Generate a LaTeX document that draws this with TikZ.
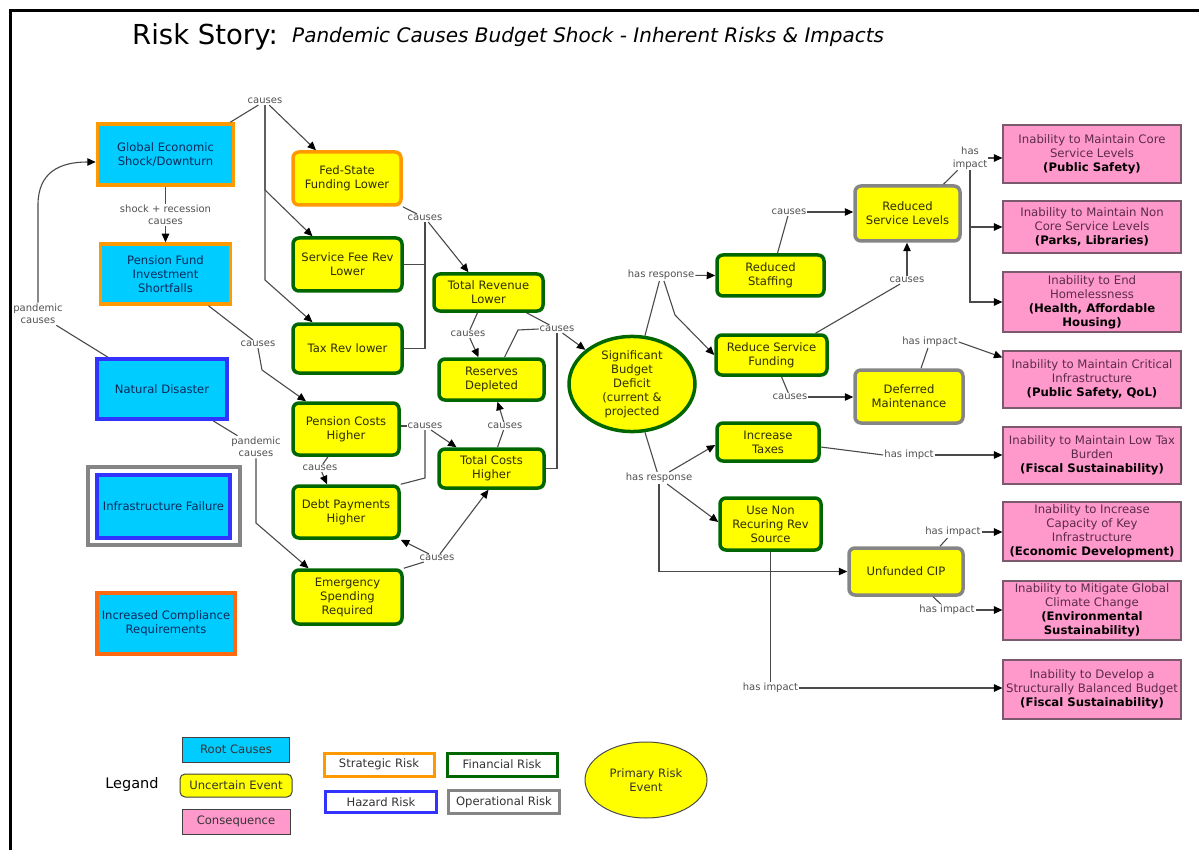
\documentclass[tikz,border=0pt]{standalone}
\usepackage{fontspec}
\setmainfont{DejaVu Sans}
\usetikzlibrary{arrows.meta,shapes.geometric}
\definecolor{rootfill}{HTML}{00CCFF}
\definecolor{roottext}{HTML}{0A2A5A}
\definecolor{uncfill}{HTML}{FFFF00}
\definecolor{unctext}{HTML}{2E2E00}
\definecolor{consfill}{HTML}{FF99CC}
\definecolor{consdraw}{HTML}{7A5A6C}
\definecolor{constext}{HTML}{5C2A4A}
\definecolor{stratcol}{HTML}{FF9900}
\definecolor{complcol}{HTML}{FF6A10}
\definecolor{hazcol}{HTML}{3333FF}
\definecolor{fincol}{HTML}{006600}
\definecolor{opcol}{HTML}{858585}
\definecolor{labtext}{HTML}{505050}
\definecolor{linecol}{HTML}{4A4A4A}
\newcommand\consbold[1]{\textbf{\color{black}#1}}
\begin{document}
\begin{tikzpicture}[x=1pt,y=-1pt,
  nodebase/.style={align=center, inner sep=1pt, font=\fontsize{11.6}{14}\selectfont},
  root/.style={nodebase, rectangle, fill=rootfill, text=roottext, line width=3.5pt},
  unc/.style={nodebase, rectangle, rounded corners=6pt, fill=uncfill, text=unctext, line width=3.5pt},
  cons/.style={nodebase, font=\fontsize{11.7}{14}\selectfont, rectangle, fill=consfill, draw=consdraw, line width=1.2pt, text=constext, minimum width=178},
  strat/.style={draw=stratcol}, compl/.style={draw=complcol}, haz/.style={draw=hazcol},
  finrisk/.style={draw=fincol}, oper/.style={draw=opcol},
  lab/.style={font=\fontsize{10}{12.5}\selectfont, text=labtext, inner sep=1pt, align=center},
  conn/.style={draw=linecol, line width=1.1pt},
  arr/.style={conn, -{Triangle[length=8.5pt,width=7.5pt,color=black]}},
  lgbox/.style={nodebase, rectangle, line width=1pt, draw=black!75, text=black!80},
  lgrisk/.style={nodebase, rectangle, fill=white, line width=3pt, text=black!80}
]
\useasboundingbox (0,0) rectangle (1199,850);
\draw[line width=2.6pt] (10.5,851) -- (10.5,10.5) -- (1200,10.5);

% title
\node[anchor=west, inner sep=0, font=\fontsize{27.5}{30}\selectfont] (title) at (132,37) {Risk Story:};
\node[anchor=west, inner sep=0, font=\fontsize{20}{22}\selectfont\itshape] (subtitle) at (292,37) {Pandemic Causes Budget Shock - Inherent Risks \& Impacts};

% root causes
\node[root, strat, minimum width=136, minimum height=61] (glob) at (165.5,154.5) {Global Economic\\Shock/Downturn};
\node[root, strat, minimum width=130, minimum height=60] (pens) at (165.5,274) {Pension Fund\\Investment\\Shortfalls};
\node[root, haz, minimum width=130, minimum height=60] (nat) at (162,389) {Natural Disaster};
\node[rectangle, oper, line width=3.5pt, minimum width=152, minimum height=78] (infraO) at (164,506) {};
\node[root, haz, minimum width=133, minimum height=63] (infra) at (163.5,506.5) {Infrastructure Failure};
\node[root, compl, minimum width=138, minimum height=61] (comp) at (166,623.5) {Increased Compliance\\Requirements};

% uncertain events
\node[unc, strat, minimum width=108, minimum height=53] (fed) at (347,178.5) {Fed-State\\Funding Lower};
\node[unc, finrisk, minimum width=109, minimum height=53] (fee) at (347.5,264.5) {Service Fee Rev\\Lower};
\node[unc, finrisk, minimum width=109, minimum height=49] (tax) at (347.5,348.5) {Tax Rev lower};
\node[unc, finrisk, minimum width=109, minimum height=37] (trev) at (488.5,292.5) {Total Revenue\\Lower};
\node[unc, finrisk, minimum width=105, minimum height=41] (res) at (491.5,379.5) {Reserves\\Depleted};
\node[unc, finrisk, minimum width=106, minimum height=52] (pcost) at (346,429) {Pension Costs\\Higher};
\node[unc, finrisk, minimum width=105, minimum height=39] (tcost) at (491.5,468.5) {Total Costs\\Higher};
\node[unc, finrisk, minimum width=106, minimum height=52] (debt) at (346,512) {Debt Payments\\Higher};
\node[unc, finrisk, minimum width=109, minimum height=54] (emerg) at (347.5,597) {Emergency\\Spending\\Required};
\node[ellipse, nodebase, fill=uncfill, draw=fincol, line width=3.5pt, text=unctext, minimum width=126, minimum height=94, inner sep=0] (deficit) at (632,384) {Significant\\Budget\\Deficit\\(current \&\\projected};
\node[unc, finrisk, minimum width=107, minimum height=41] (rstaff) at (770.5,275.5) {Reduced\\Staffing};
\node[unc, finrisk, minimum width=111, minimum height=40] (rsf) at (771.5,355) {Reduce Service\\Funding};
\node[unc, finrisk, minimum width=102, minimum height=38] (itax) at (768,442) {Increase\\Taxes};
\node[unc, finrisk, minimum width=101, minimum height=52] (usenon) at (770.5,524) {Use Non\\Recuring Rev\\Source};
\node[unc, oper, minimum width=105, minimum height=55] (rsl) at (907.5,213.5) {Reduced\\Service Levels};
\node[unc, oper, minimum width=108, minimum height=53] (defm) at (909,396.5) {Deferred\\Maintenance};
\node[unc, oper, minimum width=114, minimum height=47] (ucip) at (906,571.5) {Unfunded CIP};

% consequences
\node[cons, minimum height=58] (core) at (1092,154) {Inability to Maintain Core\\Service Levels\\\consbold{(Public Safety)}};
\node[cons, minimum height=52] (noncore) at (1092,227) {Inability to Maintain Non\\Core Service Levels\\\consbold{(Parks, Libraries)}};
\node[cons, minimum height=60] (home) at (1092,302) {Inability to End\\Homelessness\\\consbold{(Health, Affordable}\\\consbold{Housing)}};
\node[cons, minimum height=57] (crit) at (1092,379.5) {Inability to Maintain Critical\\Infrastructure\\\consbold{(Public Safety, QoL)}};
\node[cons, minimum height=57] (lowtax) at (1092,455.5) {Inability to Maintain Low Tax\\Burden\\\consbold{(Fiscal Sustainability)}};
\node[cons, minimum height=59] (cap) at (1092,531.5) {Inability to Increase\\Capacity of Key\\Infrastructure\\\consbold{(Economic Development)}};
\node[cons, minimum height=59] (clim) at (1092,610.5) {Inability to Mitigate Global\\Climate Change\\\consbold{(Environmental}\\\consbold{Sustainability)}};
\node[cons, minimum height=59] (bal) at (1092,689.5) {Inability to Develop a\\Structurally Balanced Budget\\\consbold{(Fiscal Sustainability)}};

% labels
\node[lab] (L1) at (265,101) {causes};
\node[lab] (L2) at (165.5,215) {shock + recession\\causes};
\node[lab] (L3) at (38,314) {pandemic\\causes};
\node[lab] (L4) at (258,344) {causes};
\node[lab] (L5) at (256,447) {pandemic\\causes};
\node[lab] (L6) at (425,218) {causes};
\node[lab] (L7) at (468,334) {causes};
\node[lab] (L8) at (557,329) {causes};
\node[lab] (L9) at (425,426) {causes};
\node[lab] (L10) at (320,468) {causes};
\node[lab] (L11) at (505,426) {causes};
\node[lab] (L12) at (437,558) {causes};
\node[lab] (L13) at (661,275) {has response};
\node[lab] (L14) at (659,478) {has response};
\node[lab] (L15) at (789,212) {causes};
\node[lab] (L16) at (907,280) {causes};
\node[lab] (L17) at (790,397) {causes};
\node[lab] (L18) at (970,158) {has\\impact};
\node[lab] (L19) at (930,342) {has impact};
\node[lab] (L20) at (909,455) {has impct};
\node[lab] (L21) at (953,532) {has impact};
\node[lab] (L22) at (947,610) {has impact};
\node[lab] (L23) at (770.5,688) {has impact};

% connectors
\draw[conn] ([xshift=-5]glob.north east) -- (L1);
\draw[arr] (L1) -- ([xshift=-31]fed.north);
\draw[arr] (L1.south) -- (265,190) -- ([xshift=-35]fee.north);
\draw[arr] (L1.south) -- (265,280) -- ([xshift=-35]tax.north);
\draw[conn] (glob.south) -- (L2);
\draw[arr] (L2) -- (pens.north);
\draw[conn] ([xshift=-54]nat.north) -- (L3);
\draw[arr] (L3.north) -- (38,205) .. controls (38,172) and (60,162) .. ([yshift=-7.5pt]glob.west);
\draw[conn] ([xshift=43]pens.south) -- (L4);
\draw[arr] (L4.south) -- (262,370) -- ([xshift=-40]pcost.north);
\draw[conn] ([xshift=51]nat.south) -- (L5);
\draw[arr] (L5.south) -- (256,523) -- ([xshift=-39]emerg.north);
\draw[conn] (fed.south east) -- (L6);
\draw[conn] (fee.east) -| (L6.south);
\draw[conn] (tax.east) -| (L6.south);
\draw[arr] (L6) -- ([xshift=-20]trev.north);
\draw[conn] ([xshift=-11]trev.south) -- (L7);
\draw[arr] (L7) -- ([xshift=-13]res.north);
\draw[conn] ([xshift=38]trev.south) -- (L8);
\draw[conn] ([xshift=13]res.north) -- (518,330) -- (L8.west);
\draw[conn] (tcost.east) -| (L8.south);
\draw[arr] (L8) -- (deficit);
\draw[conn] ([yshift=3pt]pcost.east) -- (L9.west);
\draw[conn] (debt.north east) -- (425,478) -- (L9.south);
\draw[arr] (L9) -- ([xshift=-35]tcost.north);
\draw[conn] ([xshift=-18]pcost.south) -- (L10);
\draw[arr] (L10) -- ([xshift=-19]debt.north);
\draw[conn] ([xshift=6]tcost.north) -- (L11);
\draw[arr] (L11) -- ([xshift=6]res.south);
\draw[conn] (emerg.north east) -- (L12);
\draw[arr] (L12) -- (debt.south east);
\draw[arr] (L12) -- ([xshift=-3]tcost.south);
\draw[conn] (deficit.75) -- (L13);
\draw[arr] (L13) -- (rstaff.west);
\draw[arr] ([xshift=3]L13.south) -- (675,315) -- (rsf.west);
\draw[conn] (deficit.-75) -- (L14);
\draw[arr] (L14) -- ([yshift=-3pt]itax.west);
\draw[arr] (L14) -- ([yshift=2pt]usenon.west);
\draw[arr] (L14.south) |- (ucip.west);
\draw[conn] ([xshift=7]rstaff.north) -- (L15);
\draw[arr] (L15) -- (L15 -| rsl.west);
\draw[conn] ([xshift=44]rsf.north) -- (L16);
\draw[arr] (L16) -- (L16 |- rsl.south);
\draw[conn] ([xshift=10]rsf.south) -- (L17);
\draw[arr] (L17) -- (L17 -| defm.west);
\draw[conn] ([xshift=36]rsl.north) -- (L18);
\draw[arr] (L18.east) -- (L18.east -| core.west);
\draw[arr] (L18.south) |- (noncore.west);
\draw[arr] (L18.south) |- (home.west);
\draw[conn] ([xshift=12]defm.north) -- (L19);
\draw[arr] (L19.east) -- ([yshift=-7pt]crit.north west);
\draw[conn] ([yshift=-5pt]itax.east) -- (L20.west);
\draw[arr] (L20.east) -- (L20.east -| lowtax.west);
\draw[conn] ([xshift=34]ucip.north) -- (L21);
\draw[arr] (L21.east) -- (L21.east -| cap.west);
\draw[conn] ([xshift=27]ucip.south) -- (L22);
\draw[arr] (L22.east) -- (L22.east -| clim.west);
\draw[conn] (usenon.south) -- (L23.north);
\draw[arr] (L23.east) -- (L23.east -| bal.west);

% legend
\node[font=\fontsize{14.5}{16}\selectfont, inner sep=0] (legend) at (132,784) {Legand};
\node[lgbox, fill=rootfill, minimum width=107, minimum height=25] (lgroot) at (236,749.5) {Root Causes};
\node[lgbox, fill=uncfill, rounded corners=5pt, minimum width=112, minimum height=23] (lgunc) at (236,785.5) {Uncertain Event};
\node[lgbox, fill=consfill, minimum width=108, minimum height=25] (lgcons) at (236,821.5) {Consequence};
\node[lgrisk, strat, minimum width=110, minimum height=23] (lgstrat) at (379,764.5) {Strategic Risk};
\node[lgrisk, haz, minimum width=111, minimum height=21] (lghaz) at (381,802) {Hazard Risk};
\node[lgrisk, finrisk, minimum width=110, minimum height=23] (lgfin) at (502,764.5) {Financial Risk};
\node[lgrisk, oper, minimum width=111, minimum height=23] (lgop) at (504,802) {Operational Risk};
\node[ellipse, nodebase, fill=uncfill, draw=black!70, line width=1pt, text=black!80, minimum width=122, minimum height=76, inner sep=0] (lgprim) at (646,780) {Primary Risk\\Event};
\end{tikzpicture}
\end{document}
